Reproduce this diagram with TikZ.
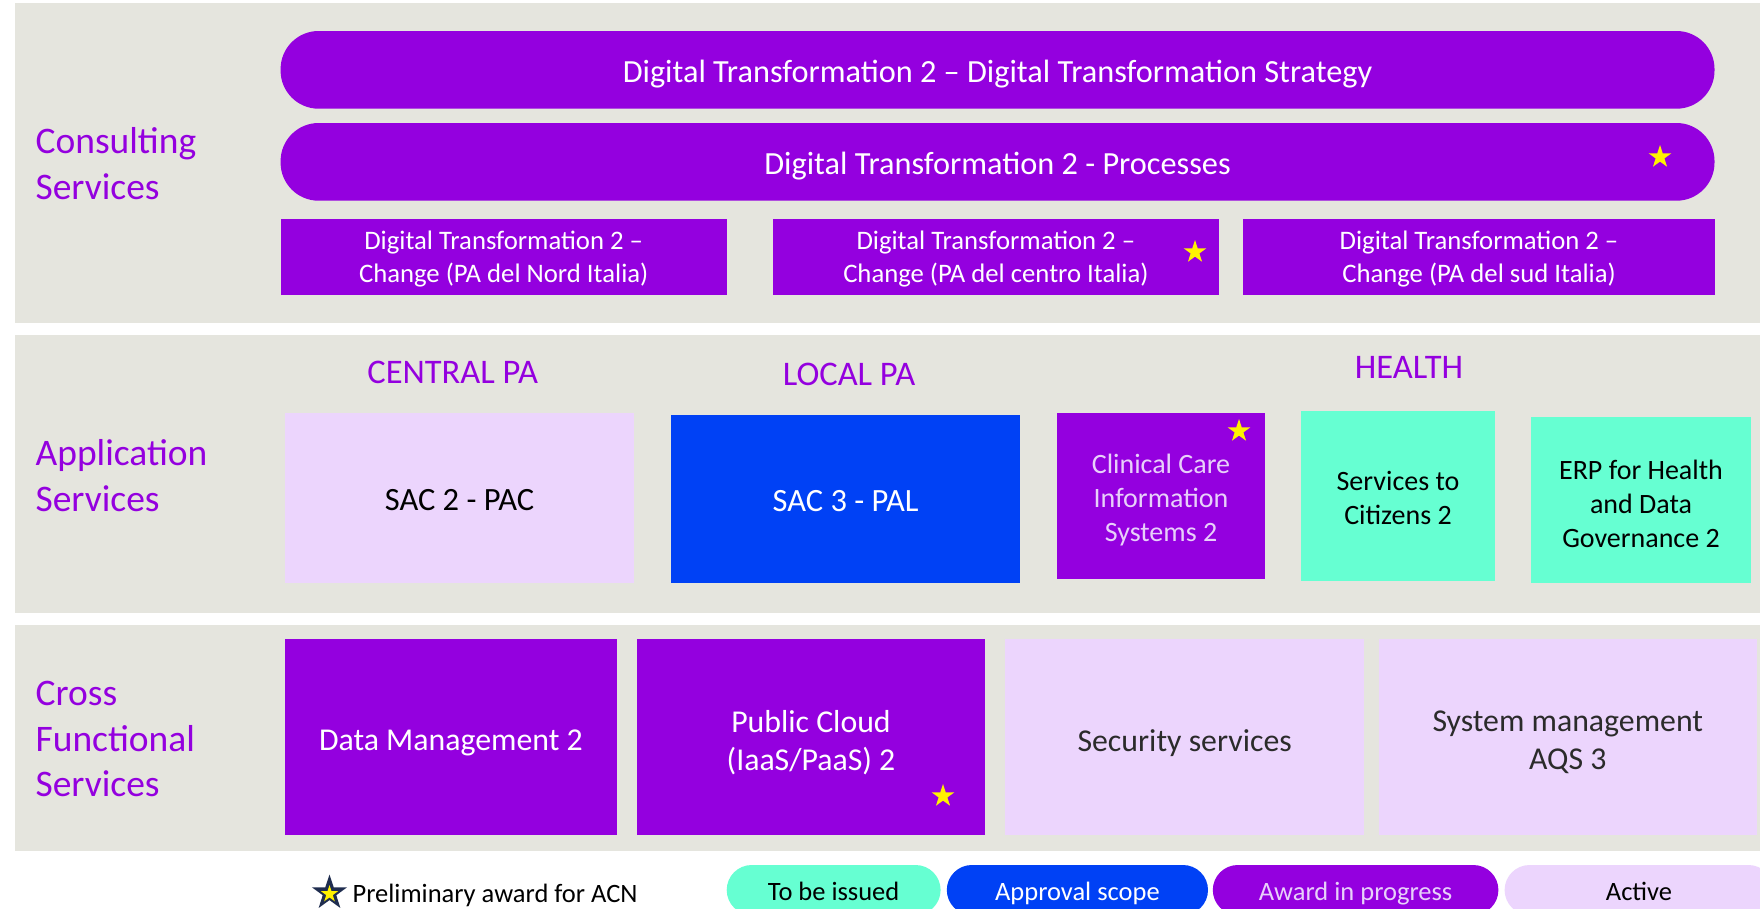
\documentclass[tikz,border=0pt]{standalone}
\usepackage{fontspec}
\setmainfont{Carlito}
\usetikzlibrary{shapes.geometric}
\definecolor{panelbg}{HTML}{E5E5DE}
\definecolor{pur}{HTML}{9400DF}
\definecolor{blu}{HTML}{0041F5}
\definecolor{aqua}{HTML}{66FFD2}
\definecolor{lav}{HTML}{ECD5FD}
\definecolor{lavtext}{HTML}{E8D0FA}
\definecolor{navy}{HTML}{1F2D4F}
\definecolor{dgray}{HTML}{2B2B2B}
\newcommand\fsect{\fontsize{37.5}{45.5}\selectfont}
\newcommand\fbar{\fontsize{32.3}{38}\selectfont}
\newcommand\fchg{\fontsize{26.7}{33}\selectfont}
\newcommand\fhdr{\fontsize{34.5}{40}\selectfont}
\newcommand\fapp{\fontsize{28}{34}\selectfont}
\newcommand\fsac{\fontsize{32.5}{38}\selectfont}
\newcommand\fcross{\fontsize{31.8}{38}\selectfont}
\newcommand\fleg{\fontsize{26.5}{32}\selectfont}
\newcommand\mybox[8]{%
  \pgfmathsetmacro\bcx{(#2+#4)/2}%
  \pgfmathsetmacro\bcy{(#3+#5)/2}%
  \pgfmathsetmacro\bw{#4-#2}%
  \pgfmathsetmacro\bh{#5-#3}%
  \node[box,#6,minimum width=\bw pt,minimum height=\bh pt] (#1) at (\bcx,\bcy) {};
  \node[box,#6,fill=none,yshift=-#8pt] (#1-t) at (\bcx,\bcy) {#7};}
\begin{document}
\begin{tikzpicture}[x=1pt,y=-1pt,
  box/.style={rectangle,inner sep=0pt,outer sep=0pt,align=center,anchor=center},
  purbox/.style={fill=pur,text=white},
  blubox/.style={fill=blu,text=white},
  aquabox/.style={fill=aqua,text=black},
  lavbox/.style={fill=lav,text=black},
  sect/.style={anchor=west,inner sep=0pt,align=left,text=pur,font=\fsect},
  hdr/.style={anchor=center,inner sep=0pt,text=pur,font=\fhdr},
  ystar/.style={star,star points=5,star point ratio=2.6,fill=yellow,minimum size=24pt,inner sep=0pt},
  pill/.style={rounded corners=25pt,font=\fleg}
]
\clip (0,0) rectangle (1760,908);
\fill[white] (0,0) rectangle (1760,908);
% panels
\fill[panelbg] (15,3) rectangle (1760,323);
\fill[panelbg] (15,335) rectangle (1760,613);
\fill[panelbg] (15,625) rectangle (1760,851);
% section labels
\node[sect] (lcons) at (35.4,163.5) {Consulting\\Services};
\node[sect] (lapp) at (35.4,475.5) {Application\\Services};
\node[sect] (lcross) at (35.4,739) {Cross\\Functional\\Services};
% consulting
\mybox{dts}{280.6}{31}{1714.5}{108.7}{purbox,rounded corners=38pt,font=\fbar}{Digital Transformation 2 – Digital Transformation Strategy}{4.5}
\mybox{dtp}{280.6}{123}{1714.5}{200.7}{purbox,rounded corners=38pt,font=\fbar}{Digital Transformation 2 - Processes}{4.5}
\mybox{dtn}{280.6}{219}{726.7}{294.7}{purbox,font=\fchg}{Digital Transformation 2 –\\Change (PA del Nord Italia)}{2.5}
\mybox{dtc}{772.7}{219}{1219}{294.7}{purbox,font=\fchg}{Digital Transformation 2 –\\Change (PA del centro Italia)}{2.5}
\mybox{dtsud}{1243}{219}{1715}{294.7}{purbox,font=\fchg}{Digital Transformation 2 –\\Change (PA del sud Italia)}{2.5}
% application
\node[hdr] (hcentral) at (452.7,372.5) {CENTRAL PA};
\node[hdr] (hlocal) at (849,374.5) {LOCAL PA};
\node[hdr] (hhealth) at (1409,367.5) {HEALTH};
\mybox{sac2}{285}{413.3}{634}{582.7}{lavbox,font=\fsac}{SAC 2 - PAC}{2}
\mybox{sac3}{671}{415}{1020.3}{582.7}{blubox,font=\fsac}{SAC 3 - PAL}{2}
\mybox{clin}{1057}{413}{1265}{579}{purbox,text=lavtext,font=\fapp}{Clinical Care\\Information\\Systems 2}{4.5}
\mybox{citz}{1301}{411}{1495}{580.7}{aquabox,font=\fapp}{Services to\\Citizens 2}{2}
\mybox{erp}{1531}{417}{1751}{583}{aquabox,font=\fapp}{ERP for Health\\and Data\\Governance 2}{3.5}
% cross functional
\mybox{dm}{285}{639}{616.7}{834.7}{purbox,font=\fcross}{Data Management 2}{6.5}
\mybox{pc}{637}{639}{985}{834.7}{purbox,font=\fcross}{Public Cloud\\(IaaS/PaaS) 2}{5.5}
\mybox{sec}{1005}{639}{1364.3}{834.7}{lavbox,text=dgray,font=\fcross}{Security services}{6.5}
\mybox{sys}{1379}{639}{1756.5}{834.7}{lavbox,text=dgray,font=\fcross}{System management\\AQS 3}{5.5}
% stars
\node[ystar] (st1) at (1660,157) {};
\node[ystar] (st2) at (1195,252) {};
\node[ystar] (st3) at (1239,431) {};
\node[ystar] (st4) at (943,796) {};
% legend
\node[star,star points=5,star point ratio=2.6,fill=navy,minimum size=37pt,inner sep=0pt] (lgstar) at (329.5,893) {};
\node[star,star points=5,star point ratio=2.6,fill=yellow,minimum size=18pt,inner sep=0pt] (lgstarin) at (329.5,894) {};
\node[anchor=base west,inner sep=0pt,font=\fleg,text=black] (lgtext) at (352.4,902) {Preliminary award for ACN};
\mybox{lg1}{726.7}{865}{940.6}{915}{aquabox,pill}{To be issued}{1.5}
\mybox{lg2}{946.8}{865}{1208}{915}{blubox,pill}{Approval scope}{3.5}
\mybox{lg3}{1212.8}{865}{1498.4}{915}{purbox,text=lavtext,pill}{Award in progress}{3.5}
\mybox{lg4}{1504.6}{865}{1773.4}{915}{lavbox,pill}{Active}{1.5}
\end{tikzpicture}
\end{document}
